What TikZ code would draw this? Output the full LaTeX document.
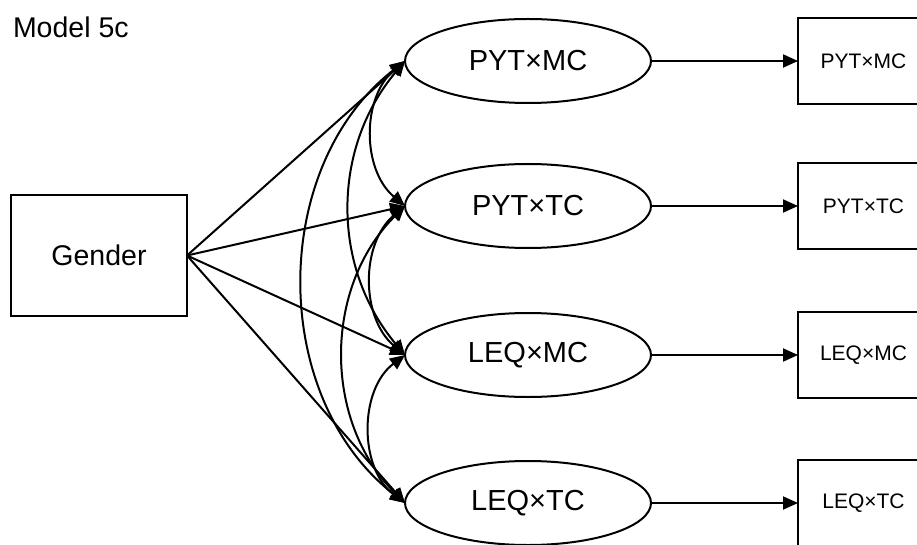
\documentclass[tikz,border=0pt]{standalone}
\usepackage{fontspec}
\setmainfont{Liberation Sans}
\usetikzlibrary{shapes.geometric,arrows.meta}
\begin{document}
\begin{tikzpicture}[x=1pt,y=-1pt,
  line width=2pt,
  tip/.style={-{Triangle[length=15pt,width=13pt]}},
  twotip/.style={{Triangle[length=15pt,width=13pt]}-{Triangle[length=15pt,width=13pt]}},
  latent/.style={ellipse,draw,minimum width=246pt,minimum height=84pt,
    inner sep=0pt,outer sep=0pt,font=\fontsize{29}{34}\selectfont},
  obsbox/.style={draw,minimum width=131pt,minimum height=86pt,inner sep=0pt,
    outer sep=0pt,anchor=west,font=\fontsize{21}{25}\selectfont},
  srcbox/.style={draw,minimum width=176pt,minimum height=121pt,inner sep=0pt,
    outer sep=0pt,font=\fontsize{28.5}{34}\selectfont},
]
\useasboundingbox (0,0) rectangle (917,545);
\clip (0,0) rectangle (917,545);

% title
\node[anchor=base west,inner sep=0pt,font=\fontsize{28.5}{34}\selectfont] (title) at (12,38) {Model 5c};

% exogenous variable
\node[srcbox] (g) at (99,255.5) {Gender};

% latent interaction terms
\node[latent] (e1) at (528,61)  {PYT×MC};
\node[latent] (e2) at (528,206) {PYT×TC};
\node[latent] (e3) at (528,355) {LEQ×MC};
\node[latent] (e4) at (528,503) {LEQ×TC};

% indicators (cut off at the right margin)
\node[obsbox] (b1) at (798,61)  {PYT×MC};
\node[obsbox] (b2) at (798,206) {PYT×TC};
\node[obsbox] (b3) at (798,355) {LEQ×MC};
\node[obsbox] (b4) at (798,503) {LEQ×TC};

% regression paths
\foreach \i in {1,...,4} {
  \draw[tip] (g.east) -- (e\i.west);
  \draw[tip] (e\i.east) -- (b\i.west);
}

% covariances among the interaction terms
\draw[twotip] (e1.west) to[bend right=50] (e2.west);
\draw[twotip] (e2.west) to[bend right=50] (e3.west);
\draw[twotip] (e3.west) to[bend right=53] (e4.west);
\draw[twotip] (e1.west) to[bend right=40] (e3.west);
\draw[twotip] (e2.west) to[bend right=45] (e4.west);
\draw[twotip] (e1.west) to[bend right=52] (e4.west);
\end{tikzpicture}
\end{document}
